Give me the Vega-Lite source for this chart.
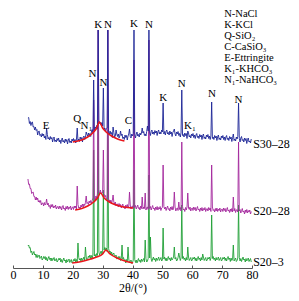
{
  "$schema": "https://vega.github.io/schema/vega-lite/v6.json",
  "width": 239,
  "height": 268,
  "autosize": {"type": "none"},
  "padding": {"left": 13, "top": 0, "right": 47, "bottom": 33},
  "config": {"view": {"stroke": null}, "font": "Liberation Serif"},
  "datasets": {
    "xrd": [
      {"t":5,"b":150,"p":89,"g":22},{"t":5.25,"b":150.5,"p":83.5,"g":23},{"t":5.5,"b":144.5,"p":84,"g":20},{"t":5.75,"b":146.5,"p":79.5,"g":20.5},
      {"t":6,"b":142.5,"p":79.5,"g":15.5},{"t":6.25,"b":145.5,"p":74.5,"g":17},{"t":6.5,"b":146,"p":75.5,"g":13},{"t":6.75,"b":141,"p":76,"g":15},
      {"t":7,"b":141.5,"p":71.5,"g":16.5},{"t":7.25,"b":138,"p":71.5,"g":13},{"t":7.5,"b":141,"p":68,"g":14},{"t":7.75,"b":137.5,"p":71,"g":10.5},
      {"t":8,"b":138.5,"p":68,"g":13.5},{"t":8.25,"b":133,"p":70,"g":10.5},{"t":8.5,"b":136.5,"p":66,"g":12},{"t":8.75,"b":137,"p":67.5,"g":13},
      {"t":9,"b":132.5,"p":65.5,"g":9.5},{"t":9.25,"b":133.5,"p":67.5,"g":10.5},{"t":9.5,"b":131,"p":63,"g":12},{"t":9.75,"b":134.5,"p":65,"g":8},
      {"t":10,"b":132,"p":65,"g":9},{"t":10.25,"b":134,"p":62,"g":11.5},{"t":10.5,"b":130,"p":65.5,"g":9.5},{"t":10.75,"b":132,"p":63,"g":11.5},
      {"t":11,"b":128.5,"p":64.5,"g":8},{"t":11.25,"b":140,"p":69,"g":10.5},{"t":11.5,"b":133.5,"p":63,"g":7},{"t":11.75,"b":129,"p":65,"g":9.5},
      {"t":12,"b":130.5,"p":61.5,"g":11.5},{"t":12.25,"b":128,"p":62.5,"g":8.5},{"t":12.5,"b":131.5,"p":59.5,"g":10},{"t":12.75,"b":129,"p":63.5,"g":7},
      {"t":13,"b":130.5,"p":61,"g":10},{"t":13.25,"b":126,"p":63.5,"g":7.5},{"t":13.5,"b":129.5,"p":60,"g":9},{"t":13.75,"b":131,"p":62,"g":10.5},
      {"t":14,"b":126.5,"p":60.5,"g":7},{"t":14.25,"b":128,"p":63,"g":8},{"t":14.5,"b":126,"p":59,"g":9.5},{"t":14.75,"b":129.5,"p":61,"g":6},
      {"t":15,"b":127.5,"p":61.5,"g":7},{"t":15.25,"b":130,"p":59,"g":9.5},{"t":15.5,"b":126,"p":62,"g":8},{"t":15.75,"b":128,"p":59.5,"g":10},
      {"t":16,"b":124.5,"p":61.5,"g":6},{"t":16.25,"b":128.5,"p":58,"g":8.5},{"t":16.5,"b":130,"p":60.5,"g":5.5},{"t":16.75,"b":126,"p":62.5,"g":8},
      {"t":17,"b":127.5,"p":59,"g":10},{"t":17.25,"b":125,"p":60,"g":7},{"t":17.5,"b":129,"p":57.5,"g":8},{"t":17.75,"b":126.5,"p":61.5,"g":5},
      {"t":18,"b":128.5,"p":59,"g":8.5},{"t":18.25,"b":124,"p":62,"g":6},{"t":18.5,"b":128,"p":58.5,"g":7.5},{"t":18.75,"b":129.5,"p":61,"g":9},
      {"t":19,"b":125.5,"p":59.5,"g":5.5},{"t":19.25,"b":127,"p":62,"g":7},{"t":19.5,"b":125,"p":58,"g":8.5},{"t":19.75,"b":129,"p":60.5,"g":5},
      {"t":20,"b":127,"p":61,"g":6},{"t":20.25,"b":129.5,"p":58.5,"g":8.5},{"t":20.5,"b":126,"p":62,"g":7},{"t":20.75,"b":128.5,"p":60,"g":9.5},
      {"t":21,"b":125,"p":62,"g":6},{"t":21.25,"b":129,"p":58.5,"g":8.5},{"t":21.5,"b":140,"p":82,"g":6},{"t":21.75,"b":127,"p":63.5,"g":25},
      {"t":22,"b":129,"p":60,"g":10.5},{"t":22.25,"b":126.5,"p":61,"g":8},{"t":22.5,"b":131,"p":59,"g":9.5},{"t":22.75,"b":128.5,"p":63,"g":7},
      {"t":23,"b":130.5,"p":61,"g":10},{"t":23.25,"b":126,"p":64,"g":7.5},{"t":23.5,"b":130.5,"p":61,"g":9},{"t":23.75,"b":132,"p":64,"g":11},
      {"t":24,"b":128.5,"p":62.5,"g":7.5},{"t":24.25,"b":130.5,"p":65.5,"g":21},{"t":24.5,"b":136,"p":72,"g":11},{"t":24.75,"b":133.5,"p":64.5,"g":8},
      {"t":25,"b":132,"p":65.5,"g":9},{"t":25.25,"b":135,"p":63.5,"g":12},{"t":25.5,"b":131.5,"p":67,"g":10.5},{"t":25.75,"b":134.5,"p":65,"g":13},
      {"t":26,"b":131.5,"p":67.5,"g":9.5},{"t":26.25,"b":136,"p":64.5,"g":12.5},{"t":26.5,"b":138.5,"p":67.5,"g":10},{"t":26.75,"b":135,"p":70,"g":13},
      {"t":27,"b":188,"p":168,"g":118},{"t":27.25,"b":136,"p":69,"g":12},{"t":27.5,"b":141,"p":67,"g":13.5},{"t":27.75,"b":139.5,"p":72,"g":11},
      {"t":28,"b":142.5,"p":70,"g":14.5},{"t":28.25,"b":139.5,"p":74,"g":12.5},{"t":28.5,"b":238,"p":238,"g":148},{"t":28.75,"b":147.5,"p":75,"g":16},
      {"t":29,"b":144.5,"p":75,"g":13},{"t":29.25,"b":145.5,"p":78,"g":15},{"t":29.5,"b":143,"p":74,"g":17},{"t":29.75,"b":145.5,"p":75.5,"g":13.5},
      {"t":30,"b":142,"p":75,"g":15},{"t":30.25,"b":180,"p":118,"g":78},{"t":30.5,"b":138.5,"p":74.5,"g":18},{"t":30.75,"b":140,"p":71,"g":20.5},
      {"t":31,"b":136,"p":72.5,"g":18},{"t":31.25,"b":139.5,"p":68.5,"g":20},{"t":31.5,"b":140,"p":70,"g":16.5},{"t":31.75,"b":238,"p":238,"g":138},
      {"t":32,"b":136.5,"p":67.5,"g":19.5},{"t":32.25,"b":133.5,"p":68,"g":16},{"t":32.5,"b":137,"p":65,"g":17},{"t":32.75,"b":134,"p":68,"g":13},
      {"t":33,"b":135.5,"p":65,"g":16},{"t":33.25,"b":130.5,"p":67.5,"g":13},{"t":33.5,"b":141,"p":73,"g":14},{"t":33.75,"b":135.5,"p":66,"g":15},
      {"t":34,"b":131,"p":64,"g":11},{"t":34.25,"b":132,"p":66,"g":12},{"t":34.5,"b":138,"p":62,"g":13},{"t":34.75,"b":134,"p":64,"g":9},
      {"t":35,"b":131.5,"p":64,"g":9.5},{"t":35.25,"b":134,"p":61,"g":11.5},{"t":35.5,"b":130,"p":64.5,"g":10},{"t":35.75,"b":132,"p":62,"g":11.5},
      {"t":36,"b":137,"p":63.5,"g":7.5},{"t":36.25,"b":132.5,"p":60,"g":10},{"t":36.5,"b":134,"p":62,"g":23},{"t":36.75,"b":129.5,"p":64,"g":9},
      {"t":37,"b":131,"p":60.5,"g":10.5},{"t":37.25,"b":128.5,"p":61.5,"g":7},{"t":37.5,"b":133,"p":59,"g":8.5},{"t":37.75,"b":130.5,"p":63,"g":5},
      {"t":38,"b":132.5,"p":60.5,"g":8.5},{"t":38.25,"b":128,"p":63.5,"g":6},{"t":38.5,"b":132,"p":60,"g":21},{"t":38.75,"b":134,"p":62,"g":9},
      {"t":39,"b":139,"p":76,"g":5},{"t":39.25,"b":131.5,"p":63,"g":6.5},{"t":39.5,"b":130,"p":59,"g":8},{"t":39.75,"b":134,"p":61.5,"g":4.5},
      {"t":40,"b":132,"p":62,"g":5.5},{"t":40.25,"b":134.5,"p":59.5,"g":8},{"t":40.5,"b":238,"p":208,"g":98},{"t":40.75,"b":133.5,"p":60.5,"g":8.5},
      {"t":41,"b":130,"p":62.5,"g":5.5},{"t":41.25,"b":134,"p":59,"g":8},{"t":41.5,"b":136,"p":61,"g":5},{"t":41.75,"b":132,"p":63,"g":7.5},
      {"t":42,"b":133.5,"p":59.5,"g":9.5},{"t":42.25,"b":131,"p":60.5,"g":6.5},{"t":42.5,"b":135,"p":58,"g":8},{"t":42.75,"b":133,"p":62,"g":5.5},
      {"t":43,"b":135,"p":59.5,"g":9},{"t":43.25,"b":140,"p":71,"g":6.5},{"t":43.5,"b":135,"p":59,"g":8},{"t":43.75,"b":136.5,"p":61,"g":9.5},
      {"t":44,"b":132.5,"p":59.5,"g":6},{"t":44.25,"b":134,"p":75,"g":28},{"t":44.5,"b":132,"p":58,"g":9.5},{"t":44.75,"b":136.5,"p":60.5,"g":6},
      {"t":45,"b":142,"p":61,"g":7},{"t":45.25,"b":137,"p":58.5,"g":9.5},{"t":45.5,"b":238,"p":228,"g":93},{"t":45.75,"b":136,"p":59.5,"g":10},
      {"t":46,"b":132.5,"p":61.5,"g":31},{"t":46.25,"b":136.5,"p":58,"g":9},{"t":46.5,"b":138,"p":60.5,"g":6.5},{"t":46.75,"b":134,"p":62.5,"g":9},
      {"t":47,"b":136,"p":59,"g":11},{"t":47.25,"b":133.5,"p":60,"g":8},{"t":47.5,"b":137.5,"p":57.5,"g":9.5},{"t":47.75,"b":135,"p":61,"g":6.5},
      {"t":48,"b":137,"p":58.5,"g":10},{"t":48.25,"b":132.5,"p":61.5,"g":7.5},{"t":48.5,"b":136.5,"p":58,"g":9},{"t":48.75,"b":138,"p":60.5,"g":11},
      {"t":49,"b":134,"p":59,"g":7.5},{"t":49.25,"b":136,"p":61.5,"g":9},{"t":49.5,"b":134,"p":57.5,"g":10.5},{"t":49.75,"b":138,"p":60,"g":7},
      {"t":50,"b":136,"p":60.5,"g":8},{"t":50.25,"b":165,"p":103,"g":40},{"t":50.5,"b":134,"p":61.5,"g":9},{"t":50.75,"b":136.5,"p":59,"g":11},
      {"t":51,"b":133,"p":61,"g":7.5},{"t":51.25,"b":137,"p":57.5,"g":10},{"t":51.5,"b":138,"p":60,"g":7},{"t":51.75,"b":134,"p":62,"g":9.5},
      {"t":52,"b":135.5,"p":58.5,"g":11.5},{"t":52.25,"b":133,"p":59.5,"g":8.5},{"t":52.5,"b":137,"p":57,"g":10},{"t":52.75,"b":134,"p":61,"g":7},
      {"t":53,"b":136,"p":58.5,"g":10.5},{"t":53.25,"b":131.5,"p":61.5,"g":8},{"t":53.5,"b":135.5,"p":58,"g":9.5},{"t":53.75,"b":137,"p":60,"g":11},
      {"t":54,"b":139,"p":76,"g":21},{"t":54.25,"b":134,"p":61,"g":9},{"t":54.5,"b":132,"p":57,"g":10.5},{"t":54.75,"b":136,"p":59.5,"g":7},
      {"t":55,"b":134,"p":60,"g":8},{"t":55.25,"b":136.5,"p":57.5,"g":10.5},{"t":55.5,"b":132.5,"p":66,"g":15},{"t":55.75,"b":134.5,"p":58.5,"g":11},
      {"t":56,"b":131,"p":60.5,"g":7.5},{"t":56.25,"b":135,"p":57,"g":10},{"t":56.5,"b":178,"p":126,"g":63},{"t":56.75,"b":132.5,"p":61.5,"g":9.5},
      {"t":57,"b":133.5,"p":58,"g":11.5},{"t":57.25,"b":131,"p":59,"g":8.5},{"t":57.5,"b":135,"p":56.5,"g":10},{"t":57.75,"b":132.5,"p":60.5,"g":7},
      {"t":58,"b":134.5,"p":58,"g":10.5},{"t":58.25,"b":129.5,"p":61,"g":8},{"t":58.5,"b":137,"p":75,"g":21},{"t":58.75,"b":135,"p":60,"g":11},
      {"t":59,"b":131,"p":58.5,"g":7.5},{"t":59.25,"b":132.5,"p":61,"g":9},{"t":59.5,"b":130,"p":57,"g":10.5},{"t":59.75,"b":134,"p":59.5,"g":7},
      {"t":60,"b":132,"p":60,"g":8},{"t":60.25,"b":134.5,"p":57.5,"g":10.5},{"t":60.5,"b":130.5,"p":61,"g":9},{"t":60.75,"b":133,"p":58.5,"g":11},
      {"t":61,"b":129.5,"p":60.5,"g":7.5},{"t":61.25,"b":133,"p":57,"g":10},{"t":61.5,"b":134.5,"p":59.5,"g":7},{"t":61.75,"b":130.5,"p":61.5,"g":9.5},
      {"t":62,"b":132,"p":58,"g":11.5},{"t":62.25,"b":129.5,"p":59,"g":8.5},{"t":62.5,"b":133.5,"p":56.5,"g":10},{"t":62.75,"b":131,"p":60,"g":7},
      {"t":63,"b":133,"p":57.5,"g":10.5},{"t":63.25,"b":128.5,"p":60.5,"g":8},{"t":63.5,"b":132.5,"p":57,"g":14},{"t":63.75,"b":134,"p":59.5,"g":11},
      {"t":64,"b":129.5,"p":58,"g":7.5},{"t":64.25,"b":131,"p":60.5,"g":9},{"t":64.5,"b":129,"p":56.5,"g":10.5},{"t":64.75,"b":133,"p":59,"g":7},
      {"t":65,"b":131,"p":59.5,"g":8},{"t":65.25,"b":133.5,"p":57,"g":10.5},{"t":65.5,"b":129.5,"p":60.5,"g":9},{"t":65.75,"b":132,"p":58,"g":11},
      {"t":66,"b":128.5,"p":60,"g":7.5},{"t":66.25,"b":132,"p":56.5,"g":10},{"t":66.5,"b":166,"p":103,"g":53},{"t":66.75,"b":129.5,"p":61,"g":9.5},
      {"t":67,"b":131,"p":57.5,"g":11.5},{"t":67.25,"b":128.5,"p":58.5,"g":8.5},{"t":67.5,"b":132.5,"p":56,"g":10},{"t":67.75,"b":130,"p":59.5,"g":7},
      {"t":68,"b":132,"p":57,"g":10.5},{"t":68.25,"b":127.5,"p":60,"g":8},{"t":68.5,"b":131.5,"p":56.5,"g":9.5},{"t":68.75,"b":133,"p":59,"g":11},
      {"t":69,"b":128.5,"p":57.5,"g":7.5},{"t":69.25,"b":130,"p":60,"g":9},{"t":69.5,"b":128,"p":56,"g":10.5},{"t":69.75,"b":132,"p":58.5,"g":7},
      {"t":70,"b":130,"p":59,"g":8},{"t":70.25,"b":132.5,"p":56.5,"g":10.5},{"t":70.5,"b":128.5,"p":60,"g":9},{"t":70.75,"b":131,"p":57.5,"g":11},
      {"t":71,"b":127.5,"p":59.5,"g":7.5},{"t":71.25,"b":131,"p":56,"g":10},{"t":71.5,"b":132.5,"p":58.5,"g":7},{"t":71.75,"b":128.5,"p":60.5,"g":9.5},
      {"t":72,"b":130,"p":57,"g":11.5},{"t":72.25,"b":127.5,"p":58,"g":8.5},{"t":72.5,"b":131.5,"p":55.5,"g":10},{"t":72.75,"b":129,"p":59,"g":6.5},
      {"t":73,"b":131,"p":56.5,"g":10},{"t":73.25,"b":126.5,"p":59.5,"g":7.5},{"t":73.5,"b":130.5,"p":56,"g":9},{"t":73.75,"b":134,"p":71,"g":23},
      {"t":74,"b":127.5,"p":57,"g":7},{"t":74.25,"b":129,"p":59.5,"g":8.5},{"t":74.5,"b":127,"p":55.5,"g":10},{"t":74.75,"b":131,"p":58,"g":6.5},
      {"t":75,"b":129,"p":58.5,"g":7.5},{"t":75.25,"b":131.5,"p":56,"g":10},{"t":75.5,"b":165,"p":126,"g":63},{"t":75.75,"b":129.5,"p":57,"g":10.5},
      {"t":76,"b":126,"p":58.5,"g":7},{"t":76.25,"b":130,"p":55,"g":9.5},{"t":76.5,"b":131.5,"p":57.5,"g":6.5},{"t":76.75,"b":127.5,"p":59.5,"g":9},
      {"t":77,"b":128.5,"p":56,"g":11},{"t":77.25,"b":126,"p":57,"g":8},{"t":77.5,"b":130,"p":54,"g":9},{"t":77.75,"b":127.5,"p":58,"g":6},
      {"t":78,"b":129.5,"p":55.5,"g":9.5},{"t":78.25,"b":124.5,"p":58.5,"g":7},{"t":78.5,"b":128.5,"p":55,"g":8.5},{"t":78.75,"b":130,"p":57.5,"g":10},
      {"t":79,"b":126,"p":56,"g":6.5},{"t":79.25,"b":127,"p":58,"g":8},{"t":79.5,"b":125,"p":54,"g":9.5},{"t":79.75,"b":129,"p":56.5,"g":6}
    ],
    "hump": [
      {"s":"a","t":20,"i":126},{"s":"a","t":23,"i":128},{"s":"a","t":25,"i":131},{"s":"a","t":27,"i":136},{"s":"a","t":28,"i":140},{"s":"a","t":28.9,"i":146},{"s":"a","t":30,"i":140},{"s":"a","t":31,"i":136.5},{"s":"a","t":33,"i":132},{"s":"a","t":35,"i":129},{"s":"a","t":37.3,"i":127},
      {"s":"b","t":20.8,"i":58},{"s":"b","t":23,"i":59.5},{"s":"b","t":25,"i":62},{"s":"b","t":27,"i":66},{"s":"b","t":28.3,"i":70},{"s":"b","t":29.3,"i":75},{"s":"b","t":30.5,"i":70},{"s":"b","t":32,"i":66.5},{"s":"b","t":34,"i":63.5},{"s":"b","t":37,"i":61},{"s":"b","t":40.2,"i":60},
      {"s":"c","t":19.8,"i":5},{"s":"c","t":23,"i":6.5},{"s":"c","t":26,"i":9},{"s":"c","t":28,"i":11},{"s":"c","t":30,"i":14},{"s":"c","t":31.1,"i":18},{"s":"c","t":32.5,"i":14},{"s":"c","t":34.5,"i":10.5},{"s":"c","t":37,"i":7.5},{"s":"c","t":40.2,"i":5}
    ],
    "peaks": [
      {"t":11.1,"i":142,"l":"E"},{"t":21.5,"i":149,"l":"Q"},{"t":24.6,"i":142,"l":"N₁"},{"t":26.6,"i":194,"l":"N"},{"t":30.25,"i":185,"l":"N"},{"t":28.5,"i":243,"l":"K"},{"t":31.75,"i":243,"l":"N"},{"t":40.5,"i":244,"l":"K"},{"t":45.5,"i":243,"l":"N"},{"t":38.6,"i":147,"l":"C"},{"t":50.25,"i":170,"l":"K"},{"t":56.5,"i":184,"l":"N"},{"t":59.2,"i":142,"l":"K₁"},{"t":66.6,"i":174,"l":"N"},{"t":75.5,"i":168,"l":"N"}
    ],
    "key": [
      {"t":70.7,"i":254,"l":"N-NaCl"},{"t":70.7,"i":243,"l":"K-KCl"},{"t":70.7,"i":232,"l":"Q-SiO₂"},{"t":70.7,"i":221,"l":"C-CaSiO₃"},{"t":70.7,"i":210,"l":"E-Ettringite"},{"t":70.7,"i":199,"l":"K₁-KHCO₃"},{"t":70.7,"i":188,"l":"N₁-NaHCO₃"}
    ],
    "names": [
      {"t":80.4,"i":124,"l":"S30–28"},{"t":80.4,"i":57,"l":"S20–28"},{"t":80.4,"i":6,"l":"S20–3"}
    ]
  },
  "encoding": {
    "x": {"field": "t", "type": "quantitative", "scale": {"domain": [0, 80], "nice": false, "zero": false},
      "axis": {"values": [0,10,20,30,40,50,60,70,80], "title": "2θ/(°)", "grid": false, "tickSize": -3, "labelPadding": 4,
        "labelFont": "Liberation Serif", "labelFontSize": 12, "labelColor": "#000", "labelFlush": false,
        "domainColor": "#555", "tickColor": "#555", "titleFont": "Liberation Serif", "titleFontSize": 12,
        "titleFontWeight": "normal", "titleColor": "#000", "titlePadding": 2}}
  },
  "layer": [
    {"data": {"name": "xrd"}, "mark": {"type": "line", "color": "#1f9f35", "strokeWidth": 0.9},
      "encoding": {"y": {"field": "g", "type": "quantitative", "scale": {"domain": [0, 268], "nice": false, "zero": false}, "axis": null}}},
    {"data": {"name": "xrd"}, "mark": {"type": "line", "color": "#a3269c", "strokeWidth": 0.9},
      "encoding": {"y": {"field": "p", "type": "quantitative", "scale": {"domain": [0, 268], "nice": false, "zero": false}, "axis": null}}},
    {"data": {"name": "xrd"}, "mark": {"type": "line", "color": "#1c2596", "strokeWidth": 0.9},
      "encoding": {"y": {"field": "b", "type": "quantitative", "scale": {"domain": [0, 268], "nice": false, "zero": false}, "axis": null}}},
    {"data": {"name": "hump"}, "mark": {"type": "line", "color": "#e8161b", "strokeWidth": 1.6, "interpolate": "monotone"},
      "encoding": {"y": {"field": "i", "type": "quantitative", "scale": {"domain": [0, 268], "nice": false, "zero": false}, "axis": null}, "detail": {"field": "s"}}},
    {"data": {"name": "peaks"}, "mark": {"type": "text", "font": "Liberation Serif", "fontSize": 11, "color": "#000", "baseline": "middle"},
      "encoding": {"y": {"field": "i", "type": "quantitative", "scale": {"domain": [0, 268], "nice": false, "zero": false}, "axis": null}, "text": {"field": "l"}}},
    {"data": {"name": "key"}, "mark": {"type": "text", "font": "Liberation Serif", "fontSize": 10.5, "color": "#000", "align": "left", "baseline": "middle"},
      "encoding": {"y": {"field": "i", "type": "quantitative", "scale": {"domain": [0, 268], "nice": false, "zero": false}, "axis": null}, "text": {"field": "l"}}},
    {"data": {"name": "names"}, "mark": {"type": "text", "font": "Liberation Serif", "fontSize": 12, "color": "#000", "align": "left", "baseline": "middle"},
      "encoding": {"y": {"field": "i", "type": "quantitative", "scale": {"domain": [0, 268], "nice": false, "zero": false}, "axis": null}, "text": {"field": "l"}}}
  ]
}
